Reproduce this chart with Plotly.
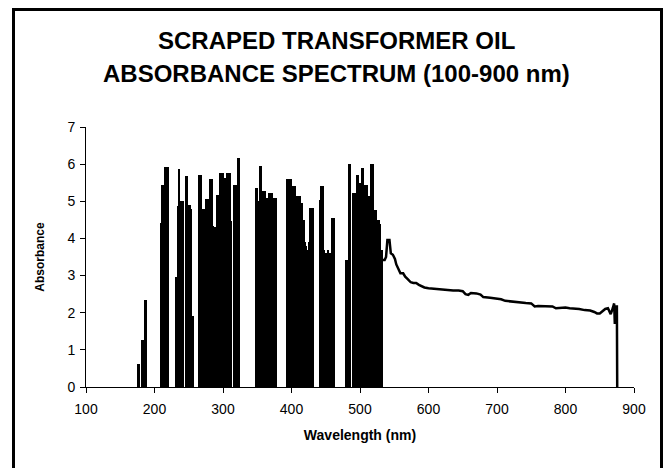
import plotly.graph_objects as go

# ---- data ----
# noisy (saturated) region, 2 nm grid from 170 to 532 nm
noisy_start, noisy_stop, noisy_step = 170, 532, 2
noisy_abs = [
    0, 0, 0, 0.63, 0.63, 0, 1.26, 1.26, 2.34, 2.34,          # 170-188
    0, 0, 0, 0, 0, 0, 0, 0, 0, 0,                            # 190-208
    4.41, 5.45, 5.45, 5.92, 5.92, 5.92, 0, 0, 0, 0,          # 210-228
    0, 2.97, 4.86, 5.86, 5.0, 5.0, 5.0, 0, 5.68, 5.68,       # 230-248
    4.9, 4.9, 4.8, 1.9, 0, 0, 0, 0, 5.7, 5.7,                # 250-268
    4.8, 4.8, 0, 5.05, 5.05, 5.05, 5.6, 5.6, 4.34, 4.3,      # 270-288
    3.9, 5.18, 5.18, 5.77, 5.77, 5.77, 5.63, 5.63, 5.77, 5.77,  # 290-308
    5.77, 4.46, 0, 5.45, 5.45, 5.45, 6.17, 6.17, 0, 0,       # 310-328
    0, 0, 0, 0, 0, 0, 0, 0, 0, 5.36,                         # 330-348
    5.36, 5.0, 5.96, 5.96, 5.27, 5.27, 5.27, 5.09, 5.09, 5.22,  # 350-368
    5.22, 5.22, 5.09, 5.09, 5.09, 0, 0, 0, 0, 0,             # 370-388
    0, 0, 5.6, 5.6, 5.6, 5.6, 5.4, 5.4, 5.4, 5.14,           # 390-408
    5.14, 5.14, 4.95, 4.95, 4.5, 3.9, 3.8, 3.7, 3.9, 4.82,   # 410-428
    4.82, 4.82, 0, 0, 0, 0, 5.04, 5.4, 5.4, 3.7,             # 430-448
    3.6, 3.6, 3.7, 3.6, 3.5, 4.55, 4.55, 0, 0, 0,            # 450-468
    0, 0, 0, 0, 0, 3.42, 3.42, 6.0, 6.0, 0,                  # 470-488
    5.22, 5.22, 5.22, 5.72, 5.72, 5.5, 5.5, 5.9, 5.45, 5.45,  # 490-508
    5.45, 5.13, 5.13, 6.0, 6.0, 6.0, 4.77, 4.77, 4.5, 4.5,   # 510-528
    4.4, 3.7,                                                # 530-532
]
noisy_wl = list(range(noisy_start, noisy_stop + 1, noisy_step))

# smooth tail region
tail_wl = [533, 536, 538, 540, 543, 545, 548, 551, 553, 556, 559, 563, 566, 570,
           574, 578, 582, 586, 590, 594, 600, 606, 612, 620, 628, 636, 644, 650,
           654, 658, 662, 670, 676, 680, 690, 700, 706, 712, 720, 728, 734, 742,
           750, 755, 760, 768, 775, 781, 786, 792, 800, 806, 812, 820, 828, 836,
           842, 846, 850, 854, 858, 862, 866, 869, 871, 872, 873, 874, 875, 875.5]
tail_abs = [3.42, 3.42, 3.5, 3.96, 3.96, 3.6, 3.56, 3.45, 3.3, 3.2, 3.06, 3.06, 2.97, 2.9,
            2.82, 2.8, 2.8, 2.75, 2.72, 2.68, 2.66, 2.65, 2.62, 2.62, 2.61, 2.6, 2.6, 2.58,
            2.5, 2.48, 2.53, 2.52, 2.49, 2.42, 2.4, 2.38, 2.36, 2.32, 2.3, 2.29, 2.27, 2.26,
            2.25, 2.17, 2.18, 2.18, 2.16, 2.17, 2.12, 2.13, 2.14, 2.12, 2.12, 2.1, 2.07, 2.06,
            2.02, 1.98, 1.98, 2.04, 2.1, 2.12, 1.96, 2.12, 2.25, 1.7, 2.2, 1.75, 2.2, 0]

x_ticks = [100, 200, 300, 400, 500, 600, 700, 800, 900]
y_ticks = [0, 1, 2, 3, 4, 5, 6, 7]

title_lines = ["SCRAPED TRANSFORMER OIL", "ABSORBANCE SPECTRUM (100-900 nm)"]
x_title = "Wavelength (nm)"
y_title = "Absorbance"

# ---- layout geometry (pixels) ----
W, H = 664, 468
ML, MR, MT, MB = 86, 30, 127, 81
PW, PH = W - ML - MR, H - MT - MB

def px_to_paper_x(px):
    return (px - ML) / PW

def py_to_paper_y(py):
    return (H - MB - py) / PH

FONT = "Liberation Sans, Arial, sans-serif"

fig = go.Figure()
fig.add_trace(go.Bar(x=noisy_wl, y=noisy_abs, width=2.3,
                     marker=dict(color="black", line=dict(width=0)),
                     showlegend=False, hoverinfo="x+y"))
fig.add_trace(go.Scatter(x=tail_wl, y=tail_abs, mode="lines",
                         line=dict(color="black", width=2.5),
                         showlegend=False))

title_y_px = [40, 73]
annotations = [dict(text="<b>" + t + "</b>", xref="paper", yref="paper",
                    x=px_to_paper_x(336), y=py_to_paper_y(yp),
                    xanchor="center", yanchor="middle", showarrow=False,
                    font=dict(family=FONT, size=24, color="black"))
               for t, yp in zip(title_lines, title_y_px)]

fig.update_layout(
    width=W, height=H,
    margin=dict(l=ML, r=MR, t=MT, b=MB),
    paper_bgcolor="white", plot_bgcolor="white",
    font=dict(family=FONT, color="black", size=13),
    annotations=annotations,
    bargap=0,
    xaxis=dict(range=[100, 900], tickvals=x_ticks, ticks="outside", ticklen=5,
               tickwidth=1, tickcolor="black", showline=True, linecolor="black",
               linewidth=1, showgrid=False, zeroline=False,
               tickfont=dict(size=14), ticklabelstandoff=4,
               title=dict(text="<b>" + x_title + "</b>", font=dict(size=14), standoff=14)),
    yaxis=dict(range=[0, 7], tickvals=y_ticks, ticks="outside", ticklen=5,
               tickwidth=1, tickcolor="black", showline=True, linecolor="black",
               linewidth=1, showgrid=False, zeroline=False,
               tickfont=dict(size=14), ticklabelstandoff=2,
               title=dict(text="<b>" + y_title + "</b>", font=dict(size=12), standoff=20)),
    shapes=[dict(type="rect", xref="paper", yref="paper",
                 x0=px_to_paper_x(13.5), x1=px_to_paper_x(661.5),
                 y0=py_to_paper_y(480), y1=py_to_paper_y(9.5),
                 line=dict(color="black", width=3), fillcolor="rgba(0,0,0,0)",
                 layer="below")],
)

fig.write_html("out.html")
